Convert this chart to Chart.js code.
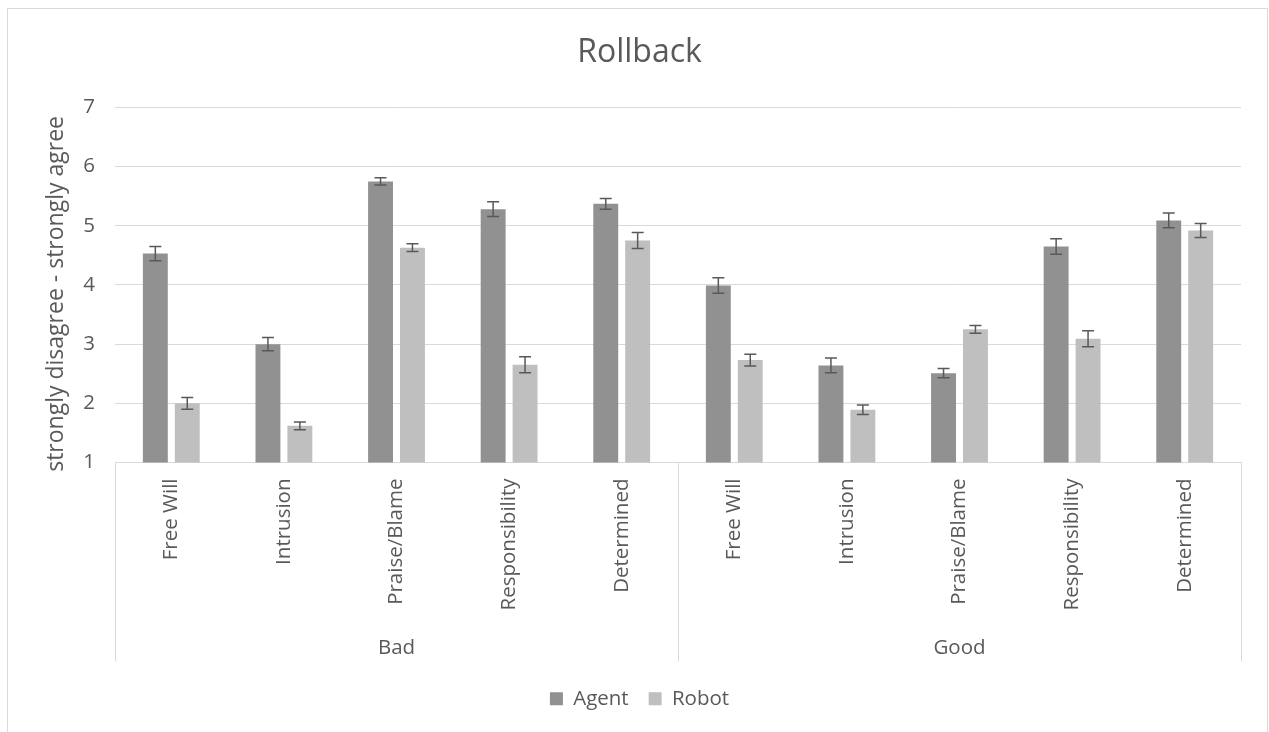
<!DOCTYPE html>
<html>
<head>
<meta charset="utf-8">
<script src="https://cdn.jsdelivr.net/npm/chart.js@4.4.1/dist/chart.umd.min.js"></script>
<style>
    html, body { margin: 0; padding: 0; background: #fff; overflow: hidden; }
    #wrap { width: 1269px; height: 732px; }
</style>
</head>
<body>
<div id="wrap"><canvas id="chart" width="1269" height="732"></canvas></div>
<script>
// Chart data
const categories = ['Free Will', 'Intrusion', 'Praise/Blame', 'Responsibility', 'Determined',
                    'Free Will', 'Intrusion', 'Praise/Blame', 'Responsibility', 'Determined'];
const groups = ['Bad', 'Good'];
const seriesNames = ['Agent', 'Robot'];
const agentValues = [4.53, 3.00, 5.75, 5.28, 5.37, 3.99, 2.64, 2.51, 4.65, 5.09];
const agentErrors = [0.12, 0.11, 0.06, 0.125, 0.09, 0.13, 0.125, 0.08, 0.13, 0.125];
const robotValues = [2.00, 1.62, 4.63, 2.65, 4.75, 2.73, 1.89, 3.25, 3.09, 4.92];
const robotErrors = [0.10, 0.065, 0.065, 0.135, 0.135, 0.10, 0.08, 0.065, 0.135, 0.12];
const yTicks = [1, 2, 3, 4, 5, 6, 7];

const textColor = '#595959';
const gridColor = '#d9d9d9';
const fontFamily = "'Open Sans', sans-serif";

// Error bars drawn over each bar
const errorBarPlugin = {
    id: 'errorBars',
    afterDatasetsDraw(chart) {
        const ctx = chart.ctx;
        const yScale = chart.scales.y;
        const errs = [agentErrors, robotErrors];
        ctx.save();
        ctx.strokeStyle = '#595959';
        ctx.lineWidth = 1.5;
        chart.data.datasets.forEach((ds, i) => {
            const meta = chart.getDatasetMeta(i);
            meta.data.forEach((bar, j) => {
                const v = ds.data[j];
                const e = errs[i][j];
                const x = bar.x;
                const yTop = yScale.getPixelForValue(v + e);
                const yBot = yScale.getPixelForValue(v - e);
                ctx.beginPath();
                ctx.moveTo(x, yTop); ctx.lineTo(x, yBot);
                ctx.moveTo(x - 6, yTop); ctx.lineTo(x + 6, yTop);
                ctx.moveTo(x - 6, yBot); ctx.lineTo(x + 6, yBot);
                ctx.stroke();
            });
        });
        ctx.restore();
    }
};

// Group separators below the axis and outer frame
const groupAxisPlugin = {
    id: 'groupAxis',
    beforeDraw(chart) {
        const ctx = chart.ctx;
        ctx.save();
        ctx.strokeStyle = gridColor;
        ctx.lineWidth = 1;
        ctx.strokeRect(7.5, 8.5, 1260, 760);
        ctx.restore();
    },
    afterDraw(chart) {
        const ctx = chart.ctx;
        const x = chart.scales.x;
        const x2 = chart.scales.x2;
        const per = categories.length / groups.length;
        ctx.save();
        ctx.strokeStyle = gridColor;
        ctx.lineWidth = 1;
        for (let g = 0; g <= groups.length; g++) {
            const px = Math.round(x.getPixelForValue(g * per - 0.5)) + 0.5;
            ctx.beginPath();
            ctx.moveTo(px, chart.chartArea.bottom);
            ctx.lineTo(px, x2.bottom - 7);
            ctx.stroke();
        }
        ctx.restore();
    }
};

new Chart(document.getElementById('chart'), {
    type: 'bar',
    data: {
        labels: categories,
        datasets: [
            { label: seriesNames[0], data: agentValues, backgroundColor: '#919191' },
            { label: seriesNames[1], data: robotValues, backgroundColor: '#bfbfbf' }
        ]
    },
    options: {
        responsive: false,
        animation: false,
        categoryPercentage: 0.567,
        barPercentage: 0.78,
        layout: { padding: { left: 38, right: 28, top: 14, bottom: 13 } },
        plugins: {
            title: {
                display: true,
                text: 'Rollback',
                color: textColor,
                font: { family: fontFamily, size: 32, weight: 'normal' },
                padding: { top: 20, bottom: 35 }
            },
            legend: {
                position: 'bottom',
                labels: {
                    color: textColor,
                    boxWidth: 13,
                    boxHeight: 13,
                    padding: 20,
                    font: { family: fontFamily, size: 20.5 }
                }
            },
            tooltip: { enabled: false }
        },
        scales: {
            x: {
                weight: 0,
                grid: { display: false, drawTicks: false },
                border: { display: true, color: gridColor },
                ticks: {
                    color: textColor,
                    font: { family: fontFamily, size: 20.5 },
                    minRotation: 90,
                    maxRotation: 90,
                    padding: 16,
                    autoSkip: false
                },
                afterFit(scale) { scale.height = 165; }
            },
            x2: {
                type: 'category',
                position: 'bottom',
                weight: 1,
                labels: groups,
                offset: true,
                grid: { display: false, drawTicks: false },
                border: { display: false },
                ticks: {
                    color: textColor,
                    font: { family: fontFamily, size: 20.5 },
                    padding: 8,
                    maxRotation: 0
                },
                afterFit(scale) { scale.height = 41; }
            },
            y: {
                min: 1,
                max: 7,
                afterBuildTicks(scale) { scale.ticks = yTicks.map(v => ({ value: v })); },
                grid: { color: gridColor, drawTicks: false },
                border: { display: false },
                ticks: {
                    color: textColor,
                    font: { family: fontFamily, size: 20.5 },
                    padding: 20
                },
                title: {
                    display: true,
                    text: 'strongly disagree - strongly agree   ',
                    color: textColor,
                    font: { family: fontFamily, size: 23 },
                    padding: { top: 5, bottom: 0 }
                },
                afterFit(scale) { scale.width = 77; }
            }
        }
    },
    plugins: [errorBarPlugin, groupAxisPlugin]
});
</script>
</body>
</html>
